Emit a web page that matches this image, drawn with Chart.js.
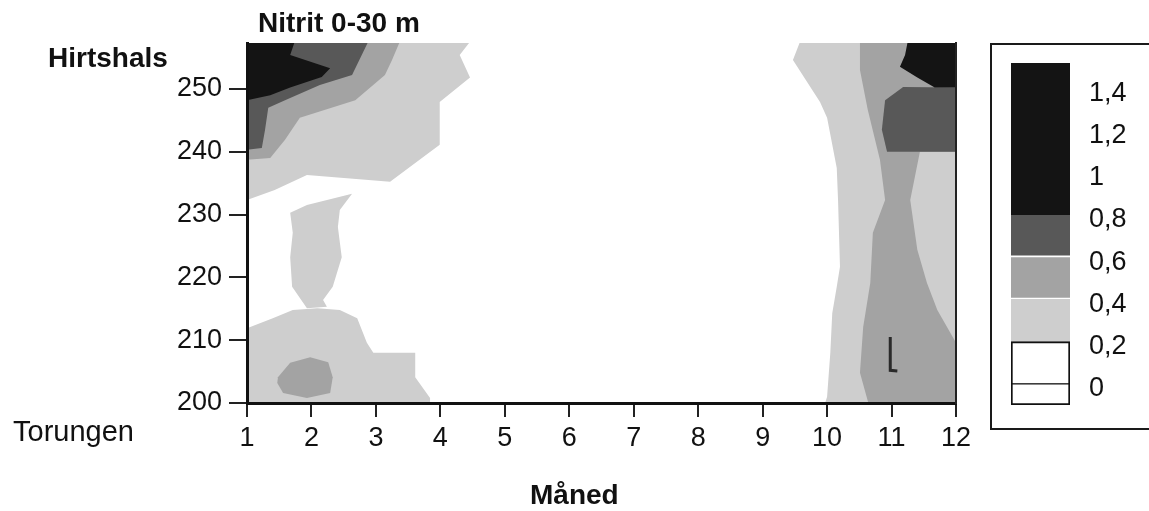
<!DOCTYPE html>
<html>
<head>
<meta charset="utf-8">
<title>Nitrit 0-30 m</title>
<script src="https://cdn.jsdelivr.net/npm/chart.js@4.4.1/dist/chart.umd.min.js"></script>
<style>
  html, body { margin: 0; padding: 0; background: #fff; }
  #wrap { position: relative; width: 1149px; height: 511px; overflow: hidden;
          font-family: 'Liberation Sans', Arial, sans-serif; color: #111; }
  .lbl { position: absolute; white-space: nowrap; line-height: 1; }
  #main { position: absolute; left: 0; top: 0; }
  #legend-box { position: absolute; left: 990px; top: 43px; width: 180px; height: 387px;
                border: 2px solid #1a1a1a; box-sizing: border-box; }
  #legend { position: absolute; left: 1000px; top: 27px; }
</style>
</head>
<body>
<div id="wrap">
  <canvas id="main" width="1149" height="511"></canvas>
  <div id="legend-box"></div>
  <canvas id="legend" width="149" height="414"></canvas>
  <div class="lbl" style="left:258px; top:9px; font-weight:bold; font-size:28px;">Nitrit 0-30 m</div>
  <div class="lbl" style="left:48px; top:44px; font-weight:bold; font-size:28px;">Hirtshals</div>
  <div class="lbl" style="left:13px; top:417px; font-size:29px;">Torungen</div>
  <div class="lbl" style="left:530px; top:481px; font-weight:bold; font-size:28px;">Måned</div>
</div>
<script>
const FONT = "'Liberation Sans', Arial, sans-serif";

// axes
const MONTHS = [1, 2, 3, 4, 5, 6, 7, 8, 9, 10, 11, 12];
const DIST_TICKS = [200, 210, 220, 230, 240, 250];
const DIST_MAX = 257.3;

// colour scale
const LEGEND_TICKS = [0, 0.2, 0.4, 0.6, 0.8, 1, 1.2, 1.4];
const LEGEND_BANDS = [[-0.1, 0], [0, 0.2], [0.2, 0.4], [0.4, 0.6], [0.6, 0.8], [0.8, 1.52]];
const BAND_COLORS = ['#ffffff', '#ffffff', '#cecece', '#a3a3a3', '#585858', '#141414'];

// contour areas: [month, position]
const AREAS_02 = [
  [[1, 257.5], [4.46, 257.5], [4.30, 255.4], [4.46, 251.8], [3.99, 247.9], [3.99, 241.1],
   [3.22, 235.2], [1.93, 236.3], [1.43, 233.9], [1, 232.3]],
  [[1.67, 230.3], [1.93, 231.5], [2.63, 233.3], [2.44, 230.7], [2.41, 228.0], [2.47, 223.2],
   [2.33, 218.5], [2.18, 216.4], [2.24, 215.3], [1.93, 215.1], [1.70, 218.5], [1.67, 223.2], [1.71, 227.1]],
  [[1, 211.9], [1.40, 213.5], [1.71, 214.8], [2.09, 215.1], [2.44, 214.8], [2.71, 213.5], [2.86, 209.6],
   [2.96, 208.0], [3.61, 208.0], [3.61, 204.1], [3.84, 200.8], [3.84, 200], [1, 200]],
  [[9.58, 257.5], [12, 257.5], [12, 200], [9.97, 200], [10.00, 201.0], [10.05, 208.0], [10.08, 214.3],
   [10.15, 218.5], [10.20, 221.7], [10.17, 232.3], [10.15, 237.4], [10.00, 245.4], [9.89, 247.9], [9.47, 254.6]]
];
const AREAS_04 = [
  [[1, 257.5], [3.37, 257.5], [3.25, 254.6], [3.14, 252.2], [2.68, 248.2], [1.82, 245.4],
   [1.59, 241.9], [1.36, 239.0], [1, 238.7]],
  [[1.48, 204.1], [1.67, 206.4], [1.98, 207.3], [2.26, 206.5], [2.33, 204.1], [2.29, 201.6],
   [1.93, 200.8], [1.56, 201.6], [1.47, 203.2]],
  [[10.51, 257.5], [12, 257.5], [12, 240.0], [11.44, 240.0], [11.29, 232.3], [11.40, 224.4],
   [11.55, 219.1], [11.71, 214.8], [12, 209.6], [12, 200], [10.64, 200], [10.51, 204.8],
   [10.56, 212.1], [10.67, 219.1], [10.71, 227.1], [10.90, 232.3], [10.82, 238.7], [10.63, 246.7], [10.51, 253.0]]
];
const AREAS_06 = [
  [[1, 257.5], [2.88, 257.5], [2.63, 252.2], [2.13, 250.6], [1.59, 248.2], [1.33, 247.0],
   [1.28, 243.5], [1.23, 240.6], [1, 240.3]],
  [[10.93, 240.0], [12, 240.0], [12, 250.2], [11.18, 250.3], [10.90, 248.2], [10.85, 243.5]]
];
const AREAS_08 = [
  [[1, 257.5], [1.74, 257.5], [1.67, 255.4], [2.29, 253.3], [2.16, 251.9], [1.67, 250.2],
   [1.36, 249.0], [1, 248.2]],
  [[11.25, 257.5], [12, 257.5], [12, 250.2], [11.67, 250.2], [11.40, 251.8], [11.13, 253.5], [11.21, 255.4]]
];
// small hand-drawn "L" stroke inside the November area
const L_MARK = [[10.98, 210.5], [10.98, 205.2], [11.09, 205.1]];

function areaDatasets(areas, color, order) {
  return areas.map(pts => ({
    data: pts.map(p => ({ x: p[0], y: p[1] })),
    fill: 'shape',
    backgroundColor: color,
    borderColor: color,
    borderWidth: 0,
    pointRadius: 0,
    tension: 0,
    order: order
  }));
}

const fixedTicks = values => scale => { scale.ticks = values.map(v => ({ value: v })); };

new Chart(document.getElementById('main'), {
  type: 'line',
  data: {
    datasets: [
      {
        data: L_MARK.map(p => ({ x: p[0], y: p[1] })),
        fill: false, borderColor: '#2a2a2a', borderWidth: 3, pointRadius: 0, order: 0
      },
      ...areaDatasets(AREAS_02, BAND_COLORS[2], 4),
      ...areaDatasets(AREAS_04, BAND_COLORS[3], 3),
      ...areaDatasets(AREAS_06, BAND_COLORS[4], 2),
      ...areaDatasets(AREAS_08, BAND_COLORS[5], 1)
    ]
  },
  options: {
    responsive: false,
    animation: false,
    events: [],
    layout: { padding: { left: 147, right: 193, top: 43, bottom: 0 } },
    plugins: { legend: { display: false }, tooltip: { enabled: false } },
    scales: {
      x: {
        type: 'linear', min: 1, max: 12,
        afterBuildTicks: fixedTicks(MONTHS),
        afterFit: s => { s.height = 108; },
        grid: { display: true, drawOnChartArea: false, drawTicks: true, tickLength: 14, color: '#222', lineWidth: 2, z: 1 },
        border: { display: true, color: '#111', width: 3, z: 1 },
        ticks: { color: '#111', font: { family: FONT, size: 27 }, padding: 5, maxRotation: 0, autoSkip: false }
      },
      y: {
        type: 'linear', min: 200, max: DIST_MAX,
        afterBuildTicks: fixedTicks(DIST_TICKS),
        afterFit: s => { s.width = 100; },
        grid: { display: true, drawOnChartArea: false, drawTicks: true, tickLength: 18, color: '#222', lineWidth: 2, z: 1 },
        border: { display: true, color: '#111', width: 3, z: 1 },
        ticks: { color: '#111', font: { family: FONT, size: 27 }, padding: 7 }
      },
      y2: {
        type: 'linear', position: 'right',
        afterFit: s => { s.width = 0; },
        grid: { display: false, drawTicks: false },
        ticks: { display: false },
        border: { display: true, color: '#222', width: 2, z: 1 }
      }
    }
  }
});

// colour scale legend as floating bars
const whiteBorder = [
  { top: 1, bottom: 2, left: 2, right: 2 },
  { top: 2, bottom: 1, left: 2, right: 2 }
];
new Chart(document.getElementById('legend'), {
  type: 'bar',
  data: {
    labels: [''],
    datasets: LEGEND_BANDS.map((band, i) => ({
      data: [band],
      backgroundColor: BAND_COLORS[i],
      borderColor: i < 2 ? '#111' : '#fff',
      borderWidth: i < 2 ? whiteBorder[i] : (i === 3 || i === 4 ? { bottom: 2 } : 0),
      borderSkipped: false,
      barPercentage: 1,
      categoryPercentage: 1
    }))
  },
  options: {
    responsive: false,
    animation: false,
    events: [],
    layout: { padding: { left: 11, right: 0, top: 36, bottom: 36 } },
    plugins: { legend: { display: false }, tooltip: { enabled: false } },
    scales: {
      x: { display: false, stacked: true },
      y: {
        position: 'right', min: -0.1, max: 1.52,
        afterBuildTicks: fixedTicks(LEGEND_TICKS),
        afterFit: s => { s.width = 79; },
        grid: { display: false, drawTicks: false },
        border: { display: false },
        ticks: {
          color: '#111', font: { family: FONT, size: 27 }, padding: 19, labelOffset: 5,
          callback: v => String(v).replace('.', ',')
        }
      }
    }
  }
});
</script>
</body>
</html>
